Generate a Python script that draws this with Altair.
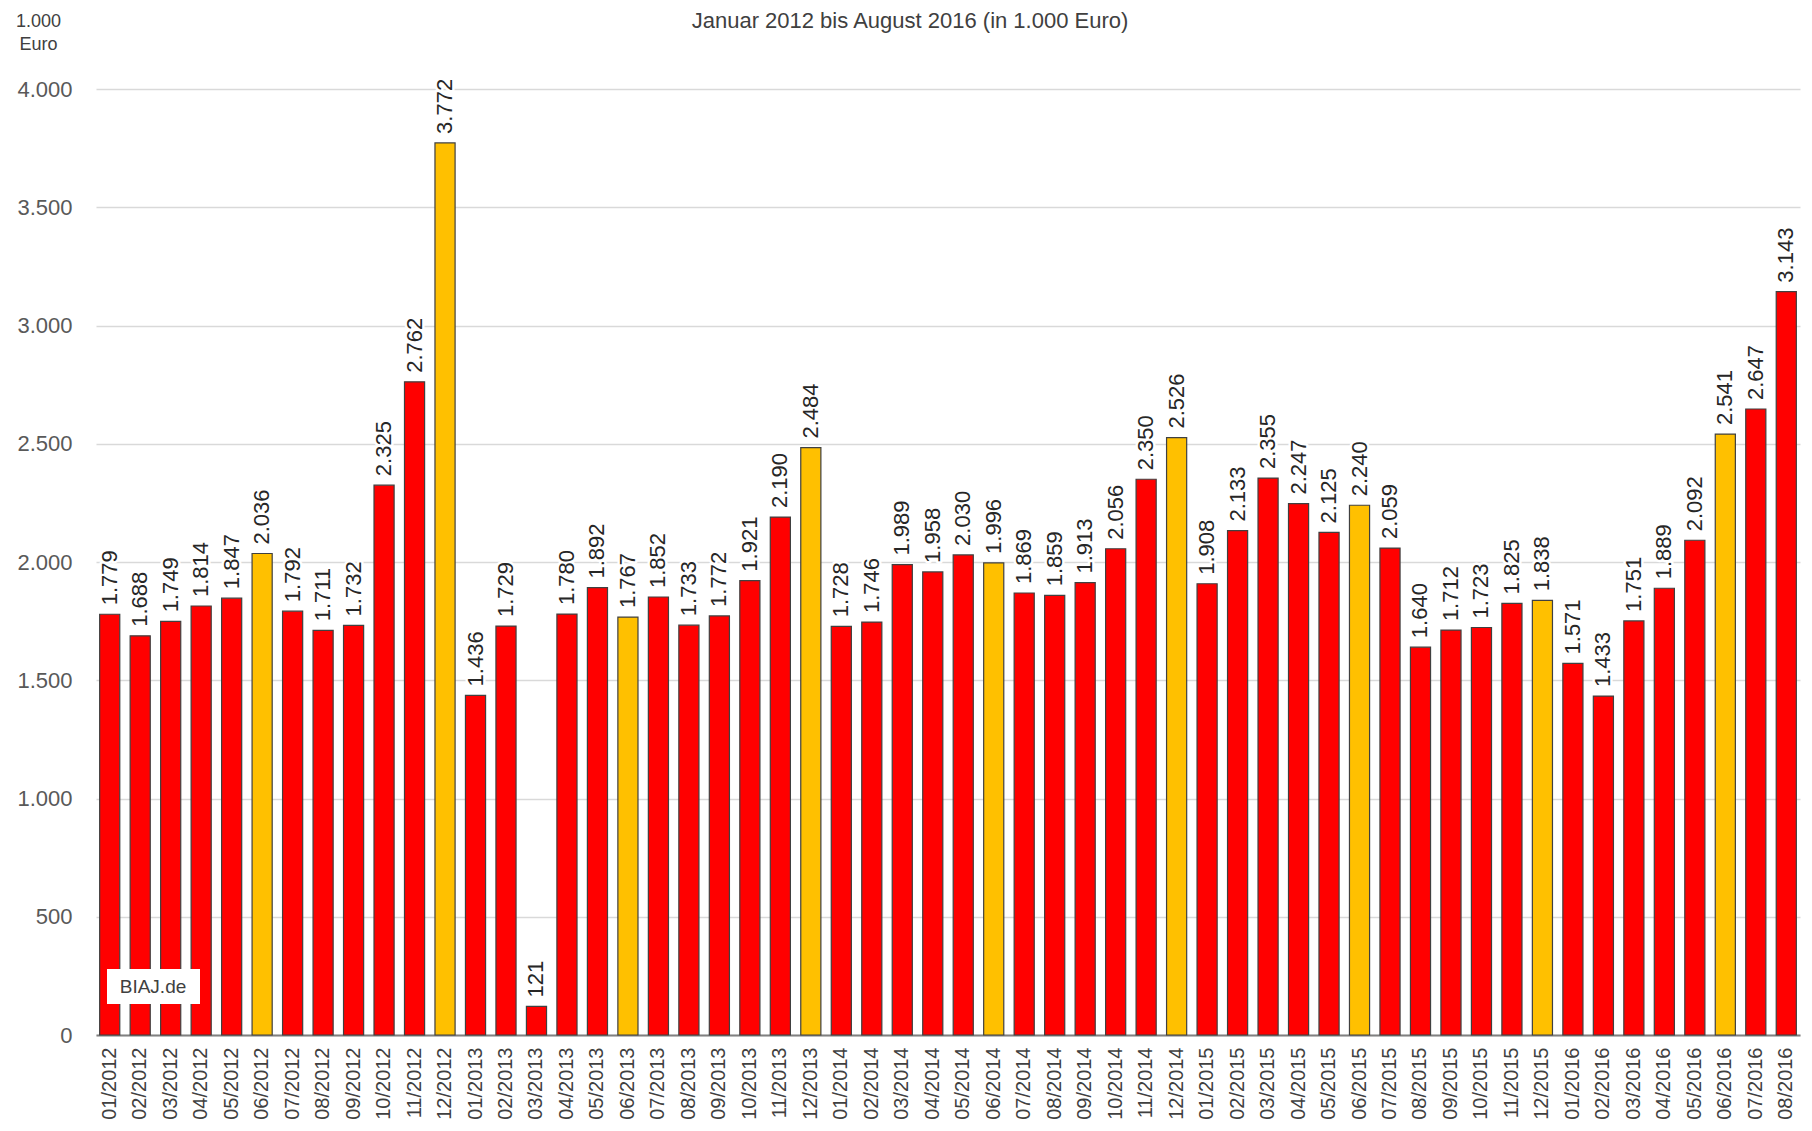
import altair as alt
import pandas as pd

# ---- data (in 1.000 Euro) ----
years = [2012, 2013, 2014, 2015, 2016]
values_2012 = [1779, 1688, 1749, 1814, 1847, 2036, 1792, 1711, 1732, 2325, 2762, 3772]
values_2013 = [1436, 1729, 121, 1780, 1892, 1767, 1852, 1733, 1772, 1921, 2190, 2484]
values_2014 = [1728, 1746, 1989, 1958, 2030, 1996, 1869, 1859, 1913, 2056, 2350, 2526]
values_2015 = [1908, 2133, 2355, 2247, 2125, 2240, 2059, 1640, 1712, 1723, 1825, 1838]
values_2016 = [1571, 1433, 1751, 1889, 2092, 2541, 2647, 3143]
highlight_months = ["06", "12"]
y_ticks = [0, 500, 1000, 1500, 2000, 2500, 3000, 3500, 4000]
title_text = "Januar 2012 bis August 2016 (in 1.000 Euro)"
y_title = ["1.000", "Euro"]
watermark = "BIAJ.de"

months, values = [], []
for yr, vals in zip(years, [values_2012, values_2013, values_2014, values_2015, values_2016]):
    for i, v in enumerate(vals):
        months.append(f"{i + 1:02d}/{yr}")
        values.append(v)
kind = ["hl" if m[:2] in highlight_months else "normal" for m in months]

df = pd.DataFrame({"month": months, "value": values, "kind": kind})

FONT = "Liberation Sans"
DE_FMT = "replace(format(datum.value, ','), ',', '.')"

x_enc = alt.X(
    "month:N",
    sort=months,
    scale=alt.Scale(paddingInner=0.34, paddingOuter=0.12),
    axis=alt.Axis(
        title=None, labelAngle=270, labelFontSize=20, labelFont=FONT,
        labelColor="#404040", labelPadding=12, ticks=False,
        domainColor="#808080", domainWidth=2, grid=False,
    ),
)
y_enc = alt.Y(
    "value:Q",
    scale=alt.Scale(domain=[0, 4000], nice=False),
    axis=alt.Axis(
        values=y_ticks, labelExpr=DE_FMT, labelFontSize=22, labelFont=FONT,
        labelColor="#595959", labelPadding=24, ticks=False, domain=False,
        gridColor="#d9d9d9", gridWidth=1.5,
        title=y_title, titleAngle=0, titleAlign="center", titleBaseline="top",
        titleX=-58, titleY=-77, titleFont=FONT, titleFontSize=18,
        titleFontWeight="normal", titleColor="#404040", titleLineHeight=23,
    ),
)

base = alt.Chart(df).encode(x=x_enc, y=y_enc)

halo = base.mark_text(
    angle=270, align="left", baseline="middle", dx=9, fontSize=22, font=FONT,
    color="white", stroke="white", strokeWidth=5, strokeJoin="round",
).transform_calculate(label=DE_FMT).encode(text="label:N")

bars = base.mark_bar(stroke="#404040", strokeWidth=1.2).encode(
    color=alt.Color("kind:N", scale=alt.Scale(domain=["normal", "hl"], range=["#FF0000", "#FFC000"]), legend=None)
)

labels = base.mark_text(
    angle=270, align="left", baseline="middle", dx=9, fontSize=22, font=FONT,
    color="#262626",
).transform_calculate(label=DE_FMT).encode(text="label:N")

wm_df = pd.DataFrame({"t": [watermark]})
wm_rect = alt.Chart(wm_df).mark_rect(color="white").encode(
    x=alt.value(11), x2=alt.value(104), y=alt.value(880), y2=alt.value(915)
)
wm_text = alt.Chart(wm_df).mark_text(fontSize=19, font=FONT, color="#404040").encode(
    text="t:N", x=alt.value(57), y=alt.value(898)
)

title_df = pd.DataFrame({"t": [title_text]})
title = alt.Chart(title_df).mark_text(
    fontSize=22, font=FONT, color="#404040", baseline="alphabetic"
).encode(text="t:N", x=alt.value(814), y=alt.value(-61))

chart = alt.layer(halo, bars, labels, wm_rect, wm_text, title).properties(
    width=1704,
    height=946,
    autosize=alt.AutoSizeParams(type="none"),
    padding={"left": 88, "top": 81, "right": 4, "bottom": 88},
).configure_view(stroke=None)

chart.save("out.html", embed_options={"renderer": "svg", "actions": False})
